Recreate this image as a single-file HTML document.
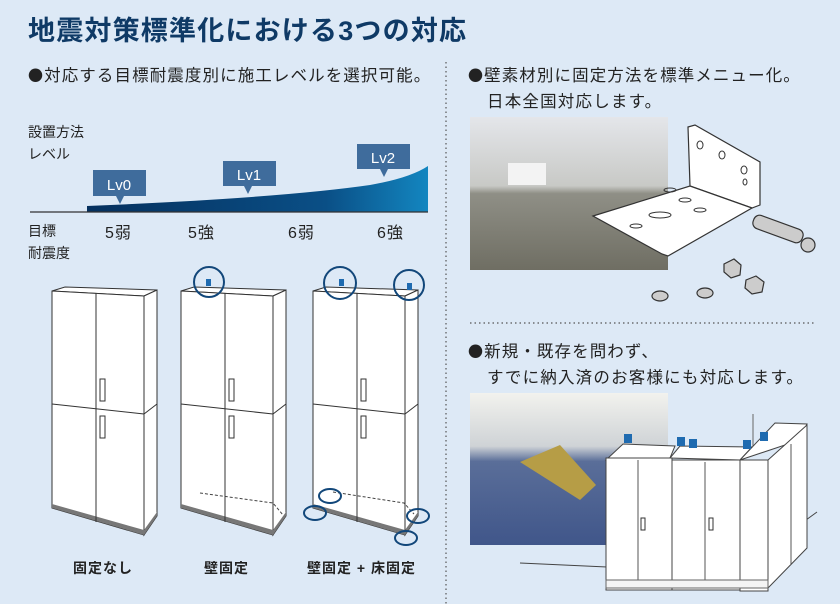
<!DOCTYPE html>
<html><head><meta charset="utf-8"><style>
html,body{margin:0;padding:0}
body{width:840px;height:604px;background:#dde9f6;position:relative;overflow:hidden;font-family:"Liberation Sans","Noto Sans CJK JP",sans-serif;color:#222}
.t{position:absolute;white-space:nowrap}
.b{font-family:"Noto Sans CJK JP",sans-serif;font-size:15px}
</style></head><body>
<svg width="840" height="604" style="position:absolute;left:0;top:0">
<defs>
<linearGradient id="g" x1="0" x2="1" y1="0" y2="0"><stop offset="0" stop-color="#05305e"/><stop offset="0.7" stop-color="#0a4f86"/><stop offset="1" stop-color="#1386c0"/></linearGradient>
<linearGradient id="ph1" x1="0" y1="0" x2="0" y2="1"><stop offset="0" stop-color="#e4e6ea"/><stop offset="0.45" stop-color="#c8c9c6"/><stop offset="0.5" stop-color="#8f8f86"/><stop offset="1" stop-color="#6f6e63"/></linearGradient>
<linearGradient id="ph2" x1="0" y1="0" x2="0" y2="1"><stop offset="0" stop-color="#f2f2ee"/><stop offset="0.35" stop-color="#cfd3d6"/><stop offset="0.45" stop-color="#5a6e99"/><stop offset="1" stop-color="#40568a"/></linearGradient>
<g id="cab">
<polygon points="52,291 65,287 157,290 144,296" fill="#fff" stroke="#333" stroke-width="1"/>
<polygon points="144,296 157,290 157,516 144,535" fill="#fff" stroke="#333" stroke-width="1"/>
<polygon points="52,291 144,296 144,535 52,508" fill="#fff" stroke="#333" stroke-width="1"/>
<polygon points="52,504 144,530 144,535 52,508" fill="#777"/>
<polygon points="144,530 157,512 157,516 144,535" fill="#777"/>
<line x1="96" y1="293" x2="96" y2="522" stroke="#333"/>
<line x1="52" y1="404" x2="144" y2="414" stroke="#333"/>
<line x1="144" y1="414" x2="157" y2="404" stroke="#333"/>
<rect x="100" y="379" width="5" height="22" fill="#fff" stroke="#333"/>
<rect x="100" y="416" width="5" height="22" fill="#fff" stroke="#333"/>
</g>
</defs>
<line x1="446" y1="62" x2="446" y2="604" stroke="#555" stroke-width="1.2" stroke-dasharray="1.5,3"/>
<line x1="470" y1="323" x2="815" y2="323" stroke="#555" stroke-width="1.2" stroke-dasharray="1.5,3"/>
<!-- chart -->
<path d="M87,212 L87,206 Q280,198 370,185 Q410,178 428,166 L428,212 Z" fill="url(#g)"/>
<line x1="30" y1="212" x2="428" y2="212" stroke="#333" stroke-width="1.2"/>
<rect x="93" y="170" width="53" height="26" fill="#3f6c9c"/><polygon points="116,196 124,196 120,204" fill="#3f6c9c"/>
<rect x="223" y="161" width="53" height="25" fill="#3f6c9c"/><polygon points="244,186 252,186 248,194" fill="#3f6c9c"/>
<rect x="357" y="144" width="53" height="25" fill="#3f6c9c"/><polygon points="380,169 388,169 384,177" fill="#3f6c9c"/>
<text x="119" y="190" font-size="15" fill="#fff" text-anchor="middle" font-family="Liberation Sans">Lv0</text>
<text x="249" y="180" font-size="15" fill="#fff" text-anchor="middle" font-family="Liberation Sans">Lv1</text>
<text x="383" y="163" font-size="15" fill="#fff" text-anchor="middle" font-family="Liberation Sans">Lv2</text>
<!-- cabinets -->
<use href="#cab"/>
<use href="#cab" transform="translate(129,0)"/>
<use href="#cab" transform="translate(261,0)"/>
<path d="M200,493 L273,503 L283,515" stroke="#444" fill="none" stroke-dasharray="3,2"/>
<path d="M333,492 L404,503 L414,514" stroke="#444" fill="none" stroke-dasharray="3,2"/>
<rect x="206" y="279" width="5" height="7" fill="#1f6bb0"/>
<rect x="339" y="279" width="5" height="7" fill="#1f6bb0"/>
<rect x="407" y="283" width="5" height="7" fill="#1f6bb0"/>
<g fill="none" stroke="#12477a" stroke-width="2">
<circle cx="209" cy="282" r="15"/><circle cx="340" cy="283" r="16"/><circle cx="409" cy="285" r="15"/>
<ellipse cx="330" cy="496" rx="11" ry="7"/><ellipse cx="315" cy="513" rx="11" ry="7"/>
<ellipse cx="418" cy="516" rx="11" ry="7"/><ellipse cx="406" cy="538" rx="11" ry="7"/>
</g>
<!-- photo 1 -->
<rect x="470" y="117" width="198" height="153" fill="url(#ph1)"/>
<rect x="508" y="163" width="38" height="22" fill="#f3f3f3"/>
<!-- bracket -->
<g stroke="#333" fill="#fff" stroke-width="1.2">
<polygon points="688,127 695,125 760,162 760,205 752,208 690,186"/>
<polygon points="593,216 690,186 752,208 668,256 662,254"/>
<g fill="none" stroke="#333" stroke-width="1">
<ellipse cx="700" cy="145" rx="3" ry="4"/><ellipse cx="722" cy="155" rx="3" ry="4"/><ellipse cx="744" cy="170" rx="3" ry="4"/><ellipse cx="745" cy="182" rx="2" ry="3"/>
<ellipse cx="670" cy="190" rx="6" ry="2"/><ellipse cx="685" cy="200" rx="6" ry="2"/><ellipse cx="660" cy="215" rx="11" ry="3"/><ellipse cx="700" cy="210" rx="6" ry="2"/><ellipse cx="636" cy="226" rx="6" ry="2"/>
</g>
<g fill="#ccc"><rect x="752" y="222" width="52" height="14" rx="6" transform="rotate(20 778 229)"/>
<circle cx="808" cy="245" r="7"/>
<polygon points="724,264 734,259 741,265 740,275 731,278 724,272"/><polygon points="746,280 756,276 764,282 762,292 752,294 745,288"/>
<ellipse cx="660" cy="296" rx="8" ry="5"/><ellipse cx="705" cy="293" rx="8" ry="5"/></g>
</g>
<!-- photo 2 -->
<rect x="470" y="393" width="198" height="152" fill="url(#ph2)"/>
<polygon points="520,462 560,445 596,485 580,500" fill="#b69d46"/>
<!-- cabinet row -->
<line x1="520" y1="563" x2="607" y2="567" stroke="#444"/>
<line x1="806" y1="520" x2="817" y2="512" stroke="#444"/>
<line x1="753" y1="414" x2="753" y2="447" stroke="#666"/>
<polygon points="606,460 623,444 675,446 670,458" fill="#fff" stroke="#444"/>
<polygon points="670,458 680,446 752,447 740,460" fill="#fff" stroke="#444"/>
<polygon points="740,460 775,423 807,424 800,440" fill="#fff" stroke="#444"/>
<rect x="606" y="458" width="66" height="132" fill="#fff" stroke="#444"/>
<line x1="638" y1="460" x2="638" y2="580" stroke="#555"/><rect x="641" y="518" width="4" height="12" fill="#fff" stroke="#333"/>
<rect x="672" y="460" width="68" height="130" fill="#fff" stroke="#444"/>
<line x1="705" y1="462" x2="705" y2="580" stroke="#555"/><rect x="709" y="518" width="4" height="12" fill="#fff" stroke="#333"/>
<rect x="740" y="460" width="28" height="131" fill="#fff" stroke="#444"/>
<polygon points="768,460 807,425 807,548 768,588" fill="#fff" stroke="#444"/>
<line x1="791" y1="444" x2="791" y2="565" stroke="#555"/>
<rect x="606" y="580" width="162" height="8" fill="#f4f4f4" stroke="#666"/>
<g fill="#1f6bb0"><rect x="624" y="434" width="8" height="9"/><rect x="677" y="437" width="8" height="9"/><rect x="689" y="439" width="8" height="9"/><rect x="743" y="440" width="8" height="9"/><rect x="760" y="432" width="8" height="9"/></g>
</svg>
<div class="t" style="left:28px;top:9px;font-size:27px;font-weight:bold;color:#0f3a66;letter-spacing:1.2px">地震対策標準化における3つの対応</div>
<div class="t" style="left:28px;top:62px;font-size:16.5px;letter-spacing:1.1px"><span class="b">●</span>対応する目標耐震度別に施工レベルを選択可能。</div>
<div class="t" style="left:468px;top:62px;font-size:16.5px;letter-spacing:1.1px"><span class="b">●</span>壁素材別に固定方法を標準メニュー化。</div>
<div class="t" style="left:487px;top:88px;font-size:16.5px;letter-spacing:1.2px">日本全国対応します。</div>
<div class="t" style="left:468px;top:338px;font-size:16.5px;letter-spacing:1.1px"><span class="b">●</span>新規・既存を問わず、</div>
<div class="t" style="left:487px;top:364px;font-size:16.5px;letter-spacing:1.2px">すでに納入済のお客様にも対応します。</div>
<div class="t" style="left:28px;top:121px;font-size:14px;line-height:22px">設置方法<br>レベル</div>
<div class="t" style="left:28px;top:220px;font-size:14px;line-height:22px">目標<br>耐震度</div>
<div class="t" style="left:105px;top:219px;font-size:16px;letter-spacing:1px">5弱</div>
<div class="t" style="left:188px;top:219px;font-size:16px;letter-spacing:1px">5強</div>
<div class="t" style="left:288px;top:219px;font-size:16px;letter-spacing:1px">6弱</div>
<div class="t" style="left:377px;top:219px;font-size:16px;letter-spacing:1px">6強</div>
<div class="t" style="left:73px;top:558px;font-size:14px;font-weight:bold;letter-spacing:1px">固定なし</div>
<div class="t" style="left:204px;top:558px;font-size:14px;font-weight:bold;letter-spacing:1px">壁固定</div>
<div class="t" style="left:307px;top:558px;font-size:14px;font-weight:bold;letter-spacing:1px">壁固定 + 床固定</div>
</body></html>
